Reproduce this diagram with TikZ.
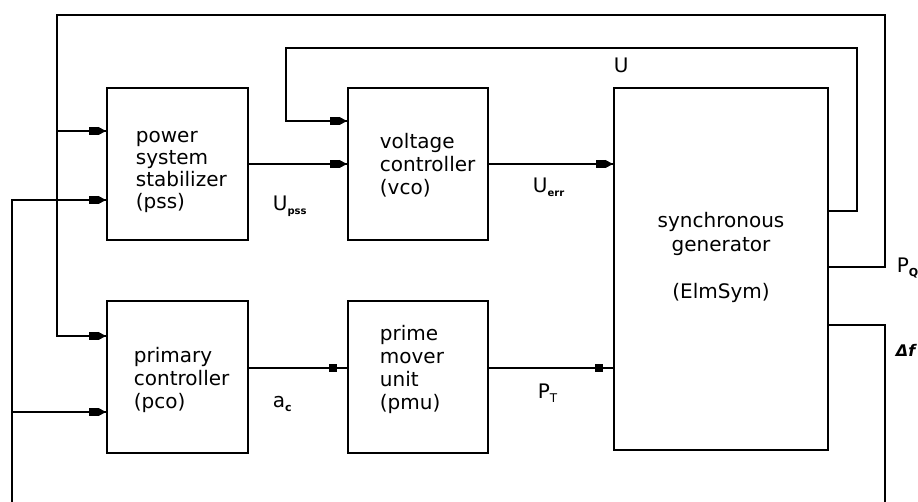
\documentclass[tikz,border=0pt]{standalone}
\usepackage{fontspec}
\setmainfont{DejaVu Sans}
\usetikzlibrary{decorations.markings}
\newcommand\fstrut{\rule{0pt}{16pt}}
\begin{document}
\begin{tikzpicture}[x=1pt,y=-1pt,
  line width=1.8pt,
  blk/.style={draw,rectangle,inner sep=0pt,line width=1.9pt},
  txt/.style={inner sep=0pt,align=left,anchor=north west,font=\fontsize{20}{22}\selectfont},
  lbl/.style={inner sep=0pt,anchor=base west,font=\fontsize{20}{22}\selectfont},
  arrowtip/.style={postaction={decorate},decoration={markings,
     mark=at position -2pt with {\fill (-15pt,-4pt) rectangle (-5pt,4pt);
       \fill (-5.5pt,-4pt) -- (0pt,-1pt) -- (0pt,1pt) -- (-5.5pt,4pt) -- cycle;}}},
  sqtip/.style={postaction={decorate},decoration={markings,
     mark=at position -10pt with {\fill (-8pt,-4pt) rectangle (0pt,4pt);}}}
]
\useasboundingbox (0,0) rectangle (918,502);

% blocks
\node[blk,minimum width=141pt,minimum height=152pt] (pss) at (177.5,164) {};
\node[blk,minimum width=140pt,minimum height=152pt] (vco) at (418,164) {};
\node[blk,minimum width=214pt,minimum height=362pt] (gen) at (721,269) {};
\node[blk,minimum width=141pt,minimum height=152pt] (pco) at (177.5,377) {};
\node[blk,minimum width=140pt,minimum height=152pt] (pmu) at (418,377) {};

% block texts
\node[txt] (pssT) at (135,126) {\fstrut power\\system\\stabilizer\\(pss)};
\node[txt,font=\fontsize{20}{23}\selectfont] (vcoT) at (379,132) {\fstrut voltage\\controller\\(vco)};
\node[txt,font=\fontsize{20}{23}\selectfont] (pcoT) at (133,346) {\fstrut primary\\controller\\(pco)};
\node[txt,font=\fontsize{20}{23}\selectfont] (pmuT) at (379,324) {\fstrut prime\\mover\\unit\\(pmu)};
\node[txt,align=center,anchor=north,font=\fontsize{20}{23.5}\selectfont] (genT) at (721,211)
  {\fstrut synchronous\\generator\\[23.5pt](ElmSym)};

% signal labels
\node[lbl] (lU) at (613,73) {U};
\node[lbl] (lUpss) at (272,211) {U\raisebox{-4pt}{\fontsize{10}{10}\selectfont\bfseries pss}};
\node[lbl] (lUerr) at (532,193) {U\raisebox{-4pt}{\fontsize{10}{10}\selectfont\bfseries err}};
\node[lbl] (lac) at (272,407) {a\raisebox{-4pt}{\fontsize{11}{11}\selectfont\bfseries c}};
\node[lbl] (lPT) at (537,398) {P\raisebox{-4pt}{\fontsize{12}{12}\selectfont T}};
\node[lbl] (lPQ) at (896,273) {P\raisebox{-4pt}{\fontsize{11}{11}\selectfont\bfseries Q}};
\node[lbl,font=\fontsize{16}{22}\selectfont\bfseries\itshape] (ldf) at (895,357) {Δf};

% free ends at the lower edge
\coordinate (bl) at (12,502);
\coordinate (br) at (885,502);

% forward paths
\draw[arrowtip] (pss.east) -- (vco.west);
\draw[arrowtip] (vco.east) -- (gen.west |- vco.east);
\draw[sqtip] (pco.east |- 0,368) -- (pmu.west |- 0,368);
\draw[sqtip] (pmu.east |- 0,368) -- (gen.west |- 0,368);

% P_Q feedback
\draw[arrowtip] (gen.east |- 0,267) -| (885,15) -| (57,336) -- (pco.west |- 0,336);
\draw[arrowtip] (57,131) -- (pss.west |- 0,131);

% U feedback
\draw[arrowtip] (gen.east |- 0,211) -| (857,48) -| (286,121) -- (vco.west |- 0,121);

% delta f feedback
\draw (gen.east |- 0,325) -| (br);
\draw[arrowtip] (bl) |- (pss.west |- 0,200);
\draw[arrowtip] (12,412) -- (pco.west |- 0,412);
\end{tikzpicture}
\end{document}
